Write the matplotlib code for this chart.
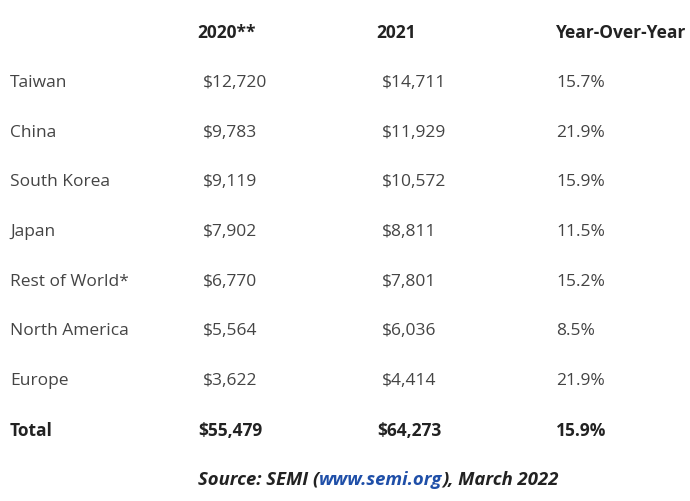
import matplotlib.pyplot as plt

# table data
headers = ['2020**', '2021', 'Year-Over-Year']
regions = ['Taiwan', 'China', 'South Korea', 'Japan', 'Rest of World*',
           'North America', 'Europe']
sales_2020 = ['$12,720', '$9,783', '$9,119', '$7,902', '$6,770', '$5,564', '$3,622']
sales_2021 = ['$14,711', '$11,929', '$10,572', '$8,811', '$7,801', '$6,036', '$4,414']
yoy = ['15.7%', '21.9%', '15.9%', '11.5%', '15.2%', '8.5%', '21.9%']
total = ['Total', '$55,479', '$64,273', '15.9%']

plt.rcParams['font.family'] = ['Open Sans', 'DejaVu Sans']

fig = plt.figure(figsize=(6.9, 5.02), dpi=100)
ax = fig.add_axes([0, 0, 1, 1])
ax.set_xlim(0, 690)
ax.set_ylim(502, 0)
ax.axis('off')

fs = 12.5
reg_color = '#444444'
bold_color = '#222222'
col_x = [10, 203, 382, 556]
head_x = [197, 376, 556]
row_y0 = 83
row_h = 49.7

for x, h in zip(head_x, headers):
    ax.text(x, 33, h, fontsize=fs, fontweight='bold', color=bold_color,
            va='center', ha='left')

for i, name in enumerate(regions):
    y = row_y0 + i * row_h
    for x, s in zip(col_x, [name, sales_2020[i], sales_2021[i], yoy[i]]):
        ax.text(x, y, s, fontsize=fs, color=reg_color, va='center', ha='left')

y_tot = row_y0 + len(regions) * row_h
for x, s in zip([10, 198, 377, 556], total):
    ax.text(x, y_tot, s, fontsize=fs, fontweight='bold', color=bold_color,
            va='center', ha='left')

# source line with a blue link in the middle
parts = [('Source: SEMI (', bold_color), ('www.semi.org', '#1f4fa8'),
         ('), March 2022', bold_color)]
fig.canvas.draw()
renderer = fig.canvas.get_renderer()
x_px = 198
y_src = 480
for s, c in parts:
    t = ax.text(x_px, y_src, s, fontsize=13.3, fontweight='bold', style='italic',
                color=c, va='center', ha='left')
    bb = t.get_window_extent(renderer=renderer)
    x_px += bb.width

plt.savefig('out.png', dpi=100)
